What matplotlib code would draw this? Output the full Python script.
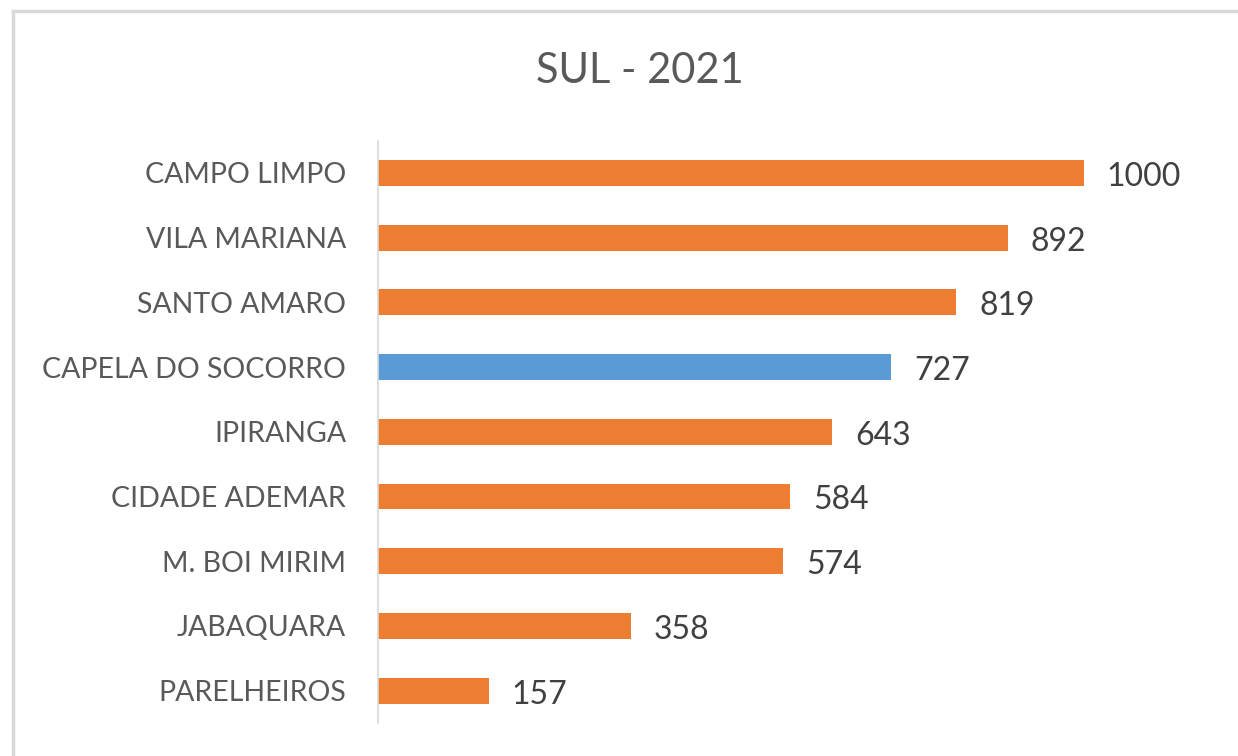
import matplotlib
matplotlib.use("Agg")
import matplotlib.pyplot as plt

categories = ["CAMPO LIMPO", "VILA MARIANA", "SANTO AMARO", "CAPELA DO SOCORRO",
              "IPIRANGA", "CIDADE ADEMAR", "M. BOI MIRIM", "JABAQUARA", "PARELHEIROS"]
values = [1000, 892, 819, 727, 643, 584, 574, 358, 157]
highlight = "CAPELA DO SOCORRO"
title = "SUL - 2021"

ORANGE = "#ED7D31"
BLUE = "#5B9BD5"
FONT = ["Lato", "DejaVu Sans"]

fig = plt.figure(figsize=(12.38, 7.56), dpi=100)
fig.patch.set_facecolor("white")

# outer chart border (top and left visible)
fig.add_artist(plt.Line2D([13 / 1238, 13 / 1238], [0, 1 - 11 / 756], transform=fig.transFigure,
                          color="#d9d9d9", lw=2.5))
fig.add_artist(plt.Line2D([13 / 1238, 1], [1 - 11 / 756, 1 - 11 / 756], transform=fig.transFigure,
                          color="#d9d9d9", lw=2.5))

ax = fig.add_axes([378 / 1238, 1 - 723 / 756, 847 / 1238, (723 - 140.5) / 756])
n = len(categories)
ypos = list(range(n))
colors = [BLUE if c == highlight else ORANGE for c in categories]
ax.barh(ypos, values, height=0.4, color=colors)
ax.set_ylim(n - 0.5, -0.5)
ax.set_xlim(0, 1200)
ax.set_yticks(ypos)
ax.set_yticklabels(categories, fontsize=20.5, color="#595959", family=FONT)
ax.tick_params(axis="y", length=0, pad=23)
ax.set_xticks([])
for s in ["top", "right", "bottom"]:
    ax.spines[s].set_visible(False)
ax.spines["left"].set_color("#d9d9d9")
ax.spines["left"].set_linewidth(1.2)

for y, v in zip(ypos, values):
    ax.annotate(f"{v}", xy=(v, y), xytext=(23, -4), textcoords="offset pixels",
                va="center", ha="left", fontsize=23, color="#404040", family=FONT)

fig.text(640 / 1238, 1 - 71 / 756, title, ha="center", va="center", fontsize=30,
         color="#595959", family=FONT)

fig.savefig("out.png", dpi=100, facecolor="white")
